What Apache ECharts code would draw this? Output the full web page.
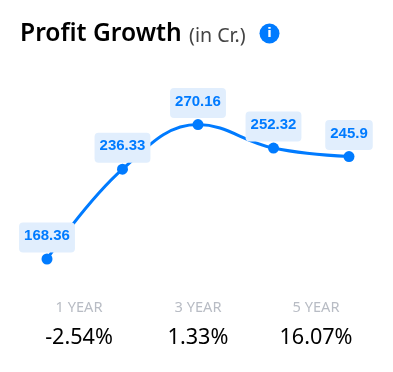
<!DOCTYPE html>
<html><head><meta charset="utf-8">
<style>html,body{margin:0;padding:0;background:#fff}#c{width:393px;height:372px}</style>
<script src="https://cdn.jsdelivr.net/npm/echarts@6/dist/echarts.min.js"></script>
</head><body><div id="c"></div>
<script>
const categories = ['P1','P2','P3','P4','P5'];
const profit = [168.36,236.33,270.16,252.32,245.9];
const periods = ['1 YEAR','3 YEAR','5 YEAR'];
const growth = ['-2.54%','1.33%','16.07%'];
const periodX = [79,198,316];
const font = '"Noto Sans"';
const chart = echarts.init(document.getElementById('c'),null,{renderer:'canvas'});
const graphic = [
 {type:'text',x:20,y:33.5,style:{text:'Profit Growth',font:'600 24.6px '+font,fill:'#000',verticalAlign:'middle'}},
 {type:'text',x:189,y:36,style:{text:'(in Cr.)',font:'400 19.6px '+font,fill:'#444',verticalAlign:'middle'}},
 {type:'circle',shape:{cx:269.5,cy:33.5,r:10},style:{fill:'#007bff'}},
 {type:'text',x:269.5,y:34,style:{text:'i',font:'900 13px "DejaVu Sans"',fill:'#fff',align:'center',verticalAlign:'middle'}}
];
periods.forEach((p,i)=>{
 graphic.push({type:'text',x:periodX[i],y:308,style:{text:p,font:'400 14.6px '+font,fill:'#b8bcc4',align:'center',verticalAlign:'middle'}});
 graphic.push({type:'text',x:periodX[i],y:337.5,style:{text:growth[i],font:'400 21.6px '+font,fill:'#000',align:'center',verticalAlign:'middle'}});
});
chart.setOption({
 animation:false,
 grid:{left:47,right:44,top:85.1,bottom:22.7},
 xAxis:{type:'category',data:categories,boundaryGap:false,show:false},
 yAxis:{type:'value',min:100,max:300,show:false},
 graphic,
 series:[{type:'line',data:profit,smooth:0.4,symbol:'circle',symbolSize:11,
  lineStyle:{color:'#007bff',width:3},itemStyle:{color:'#007bff'},
  label:{show:true,position:'top',distance:1,color:'#007bff',fontFamily:'"Liberation Sans"',fontWeight:'bold',fontSize:15,
   backgroundColor:'#e1eefd',borderRadius:4,padding:[6,5,9,5]}}]
});
</script></body></html>
